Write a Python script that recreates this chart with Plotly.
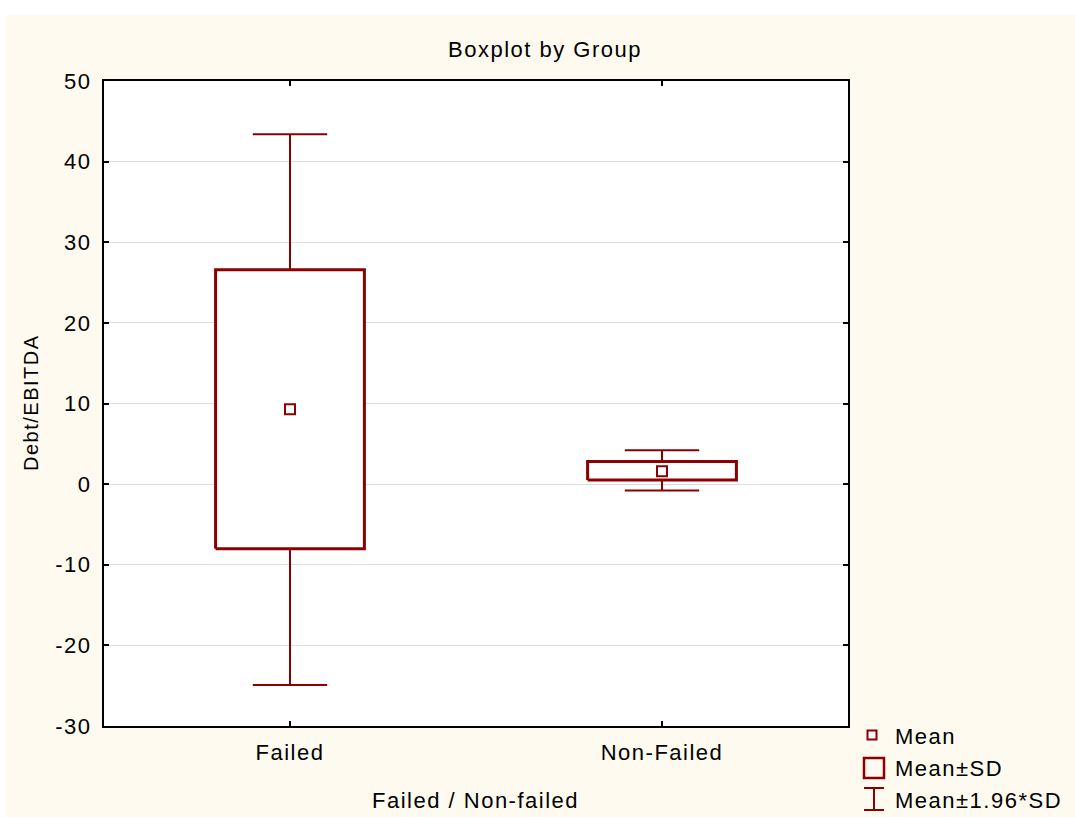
import plotly.graph_objects as go

# Group statistics for Debt/EBITDA
categories = ["Failed", "Non-Failed"]
means = [9.3, 1.6]
sd_low = [-8.0, 0.5]
sd_high = [26.6, 2.8]
ci_low = [-24.9, -0.8]
ci_high = [43.4, 4.2]

y_ticks = [-30, -20, -10, 0, 10, 20, 30, 40, 50]

DARK_RED = "#8B0000"
CREAM = "#FEFAEF"
FONT = "Liberation Sans, Arial, sans-serif"
TEXT_COLOR = "#000000"

W, H = 1075, 817
L, R, T, B = 104, 848, 81, 726

BOX_HALF = 0.2
CAP_HALF = 0.1


def px_x(x):
    return (x - L) / (R - L)


def px_y(y):
    return (B - y) / (B - T)


def spaced(s, ls=1.5):
    return f'<span style="letter-spacing:{ls}px">{s}</span>'


fig = go.Figure()

for i, cat in enumerate(categories):
    # whiskers: mean ± 1.96*SD
    wx = [i, i, None, i, i, None,
          i - CAP_HALF, i + CAP_HALF, None, i - CAP_HALF, i + CAP_HALF]
    wy = [sd_high[i], ci_high[i], None, sd_low[i], ci_low[i], None,
          ci_high[i], ci_high[i], None, ci_low[i], ci_low[i]]
    fig.add_trace(go.Scatter(x=wx, y=wy, mode="lines",
                             line=dict(color=DARK_RED, width=2),
                             hoverinfo="skip", showlegend=False))
    # box: mean ± SD
    bx = [i - BOX_HALF, i + BOX_HALF, i + BOX_HALF, i - BOX_HALF, i - BOX_HALF]
    by = [sd_low[i], sd_low[i], sd_high[i], sd_high[i], sd_low[i]]
    fig.add_trace(go.Scatter(x=bx, y=by, mode="lines", fill="toself",
                             fillcolor="white",
                             line=dict(color=DARK_RED, width=3),
                             hoverinfo="skip", showlegend=False))

# mean markers
fig.add_trace(go.Scatter(
    x=list(range(len(categories))), y=means, mode="markers",
    marker=dict(symbol="square", size=10, color="white",
                line=dict(color=DARK_RED, width=2)),
    showlegend=False))

shapes = [
    # white strips framing the cream page
    dict(type="rect", xref="paper", yref="paper",
         x0=px_x(0), x1=px_x(W), y0=px_y(15), y1=px_y(0),
         fillcolor="white", line=dict(width=0), layer="below"),
    dict(type="rect", xref="paper", yref="paper",
         x0=px_x(0), x1=px_x(5), y0=px_y(H), y1=px_y(0),
         fillcolor="white", line=dict(width=0), layer="below"),
    # legend icons
    dict(type="rect", xref="paper", yref="paper",
         x0=px_x(867.5), x1=px_x(876.5), y0=px_y(739.5), y1=px_y(730.5),
         line=dict(color=DARK_RED, width=2), fillcolor="white"),
    dict(type="rect", xref="paper", yref="paper",
         x0=px_x(864), x1=px_x(884), y0=px_y(778), y1=px_y(758),
         line=dict(color=DARK_RED, width=2.5), fillcolor=CREAM),
    dict(type="line", xref="paper", yref="paper",
         x0=px_x(864), x1=px_x(884), y0=px_y(788), y1=px_y(788),
         line=dict(color=DARK_RED, width=2)),
    dict(type="line", xref="paper", yref="paper",
         x0=px_x(874), x1=px_x(874), y0=px_y(788), y1=px_y(810),
         line=dict(color=DARK_RED, width=2)),
    dict(type="line", xref="paper", yref="paper",
         x0=px_x(864), x1=px_x(884), y0=px_y(810), y1=px_y(810),
         line=dict(color=DARK_RED, width=2)),
]

annotations = [
    dict(text=spaced("Boxplot by Group"), xref="paper", yref="paper",
         x=px_x(545), y=px_y(49), xanchor="center", yanchor="middle",
         showarrow=False, font=dict(size=22)),
    dict(text=spaced("Debt/EBITDA"), xref="paper", yref="paper",
         x=px_x(31), y=px_y(403), xanchor="center", yanchor="middle",
         textangle=-90, showarrow=False, font=dict(size=20)),
    dict(text=spaced("Failed / Non-failed"), xref="paper", yref="paper",
         x=px_x(475), y=px_y(800), xanchor="center", yanchor="middle",
         showarrow=False, font=dict(size=22)),
]
for label, yc in [("Mean", 736), ("Mean±SD", 768), ("Mean±1.96*SD", 800)]:
    annotations.append(dict(text=spaced(label), xref="paper", yref="paper",
                            x=px_x(893), y=px_y(yc), xanchor="left",
                            yanchor="middle", showarrow=False,
                            font=dict(size=22)))

fig.update_layout(
    width=W, height=H,
    margin=dict(l=L, r=W - R, t=T, b=H - B, pad=0),
    paper_bgcolor=CREAM, plot_bgcolor="white",
    font=dict(family=FONT, color=TEXT_COLOR),
    showlegend=False,
    shapes=shapes,
    annotations=annotations,
    xaxis=dict(range=[-0.5, 1.5], tickvals=list(range(len(categories))),
               ticktext=[spaced(c) for c in categories],
               ticks="inside", ticklen=5, tickwidth=2, tickcolor="black",
               showline=True, linewidth=2, linecolor="black", mirror="ticks",
               showgrid=False, zeroline=False, ticklabelstandoff=6,
               tickfont=dict(size=22)),
    yaxis=dict(range=[-30, 50], tickvals=y_ticks,
               ticktext=[spaced(str(v)) for v in y_ticks],
               ticks="inside", ticklen=5, tickwidth=2, tickcolor="black",
               showline=True, linewidth=2, linecolor="black", mirror="ticks",
               showgrid=True, gridcolor="#DCDCDC", gridwidth=1,
               zeroline=False, ticklabelstandoff=6,
               tickfont=dict(size=22)),
)

fig.write_html("out.html")
